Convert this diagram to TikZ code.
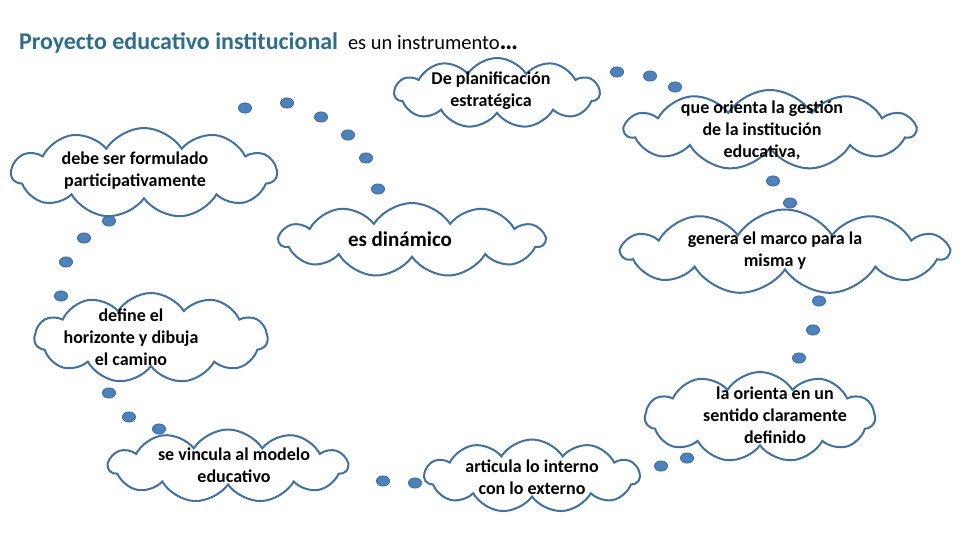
\documentclass[tikz,border=0pt]{standalone}
\usepackage{fontspec}
\setmainfont{Carlito}
\usetikzlibrary{shapes.symbols}

\definecolor{titleblue}{RGB}{46,110,140}
\definecolor{cloudline}{RGB}{65,113,156}
\definecolor{dotfill}{RGB}{79,129,189}

\begin{document}
\begin{tikzpicture}[x=1pt,y=-1pt,line width=2pt,
  nube/.style={cloud,cloud puffs=11,cloud puff arc=115,cloud ignores aspect,draw=cloudline,fill=white,inner sep=0pt},
  txt/.style={align=center,font=\fontsize{18}{22}\selectfont\bfseries}]
  \fill[white] (0,0) rectangle (960,540);
  \useasboundingbox (0,0) rectangle (960,540);
  % titulo
  \node[anchor=base west,inner sep=0pt,text=titleblue,font=\fontsize{24}{28}\selectfont\bfseries] (titulo) at (18,50) {Proyecto educativo institucional};
  \node[anchor=base west,inner sep=0pt,font=\fontsize{20.5}{24}\selectfont] (instr) at (347,50) {es un instrumento\textbf{\fontsize{26}{28}\selectfont\dots}};
  % burbujas de enlace
  \foreach \x/\y in {245/108,287/103,321/117,348/135,366/158,378/189,
                     617/72,650/76,675/87,773/181,790/203,
                     819/301,813/330,799/358,687/458,661/466,
                     415/483,383/481,159/429,129/417,109/393,
                     61/296,66/262,84/238,109/221}
    \filldraw[fill=dotfill,draw=cloudline,line width=1pt] (\x,\y) ellipse (6.5pt and 5pt);
  % nubes
  \node[nube,minimum width=205pt,minimum height=70pt] (planif) at (497,93) {};
  \node[nube,minimum width=265pt,minimum height=90pt] (formul) at (144,173) {};
  \node[nube,minimum width=290pt,minimum height=80pt] (orienta) at (770,130) {};
  \node[nube,minimum width=265pt,minimum height=74pt] (dinam) at (412,240) {};
  \node[nube,minimum width=326pt,minimum height=85pt] (marco) at (785,252) {};
  \node[nube,minimum width=233pt,minimum height=90pt] (horiz) at (151,338) {};
  \node[nube,minimum width=230pt,minimum height=90pt] (sentido) at (760,417) {};
  \node[nube,minimum width=239pt,minimum height=73pt] (modelo) at (228,466) {};
  \node[nube,minimum width=215pt,minimum height=73pt] (articula) at (532,476) {};
  % textos
  \node[txt] (tplanif) at (491,91) {De planificación\\estratégica};
  \node[txt] (tformul) at (135,171) {debe ser formulado\\participativamente};
  \node[txt] (torienta) at (762,130) {que orienta la gestión\\de la institución\\educativa,};
  \node[txt,font=\fontsize{21}{24}\selectfont\bfseries] (tdinam) at (400,239) {es dinámico};
  \node[txt] (tmarco) at (775,251) {genera el marco para la\\misma y};
  \node[txt] (thoriz) at (131,337) {define el\\horizonte y dibuja\\el camino};
  \node[txt] (tsentido) at (775,415) {la orienta en un\\sentido claramente\\definido};
  \node[txt] (tmodelo) at (234,465) {se vincula al modelo\\educativo};
  \node[txt] (tarticula) at (532,477) {articula lo interno\\con lo externo};
\end{tikzpicture}
\end{document}
